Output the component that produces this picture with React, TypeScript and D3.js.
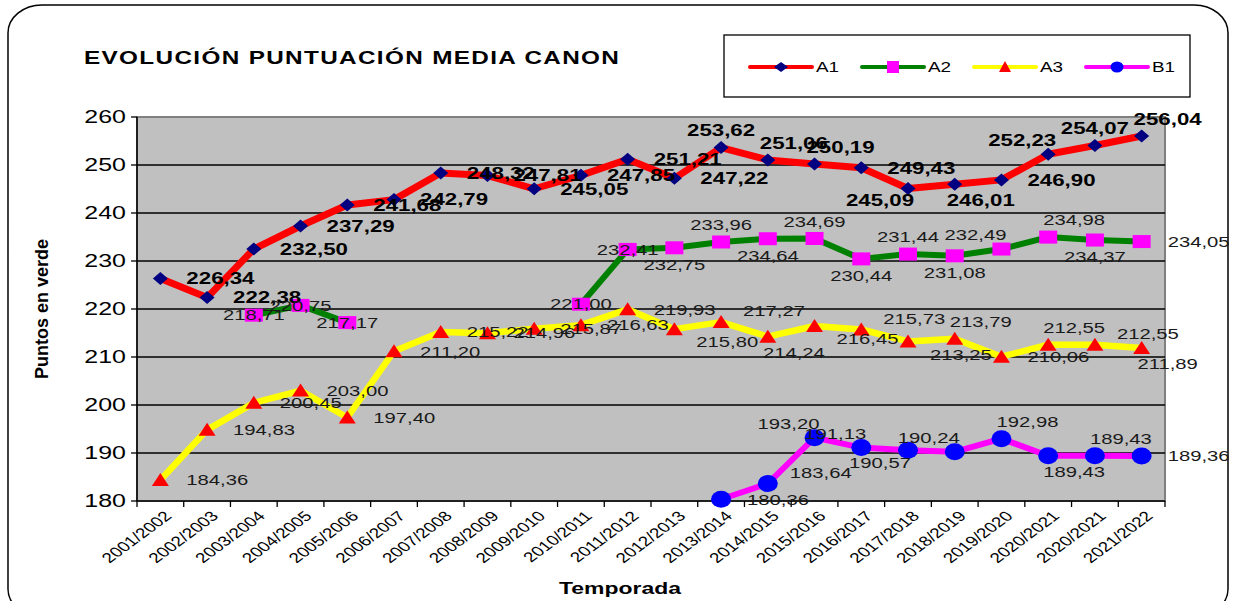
import React from "react";
import * as d3 from "d3";

const categories = [
  "2001/2002", "2002/2003", "2003/2004", "2004/2005", "2005/2006", "2006/2007",
  "2007/2008", "2008/2009", "2009/2010", "2010/2011", "2011/2012", "2012/2013",
  "2013/2014", "2014/2015", "2015/2016", "2016/2017", "2017/2018", "2018/2019",
  "2019/2020", "2020/2021", "2020/2021", "2021/2022",
];

const a1 = [226.34, 222.38, 232.5, 237.29, 241.68, 242.79, 248.32, 247.81, 245.05, 247.85, 251.21,
  247.22, 253.62, 251.06, 250.19, 249.43, 245.09, 246.01, 246.9, 252.23, 254.07, 256.04];
const a2 = [null, null, 218.71, 220.75, 217.17, null, null, null, null, 221.0, 232.41,
  232.75, 233.96, 234.64, 234.69, 230.44, 231.44, 231.08, 232.49, 234.98, 234.37, 234.05];
const a3 = [184.36, 194.83, 200.45, 203.0, 197.4, 211.2, 215.22, 214.96, 215.87, 216.63, 219.93,
  215.8, 217.27, 214.24, 216.45, 215.73, 213.25, 213.79, 210.06, 212.55, 212.55, 211.89];
const b1 = [null, null, null, null, null, null, null, null, null, null, null, null,
  180.36, 183.64, 193.2, 191.13, 190.57, 190.24, 192.98, 189.43, 189.43, 189.36];

const yTicks = [180, 190, 200, 210, 220, 230, 240, 250, 260];

// where each value label sits relative to its point
const placeA1 = ["r", "r", "r", "r", "r", "r", "r", "r", "r", "r", "r", "r",
  "a", "ar", "ar", "r", "bl", "br", "r", "al", "a", "ar"];
const placeA2 = ["", "", "c", "c", "c", "", "", "", "", "c", "c",
  "b", "a", "b", "a", "b", "a", "b", "al", "ar", "b", "r"];
const placeA3 = ["r", "r", "r", "r", "r", "r", "r", "r", "r", "r", "r",
  "rb", "ra", "br", "rb", "ra", "rb", "ar", "r", "ar", "ra", "br"];
const placeB1 = ["", "", "", "", "", "", "", "", "", "", "", "",
  "r", "ra", "al", "al", "bl", "al", "ar", "br", "ar", "r"];

const W = 1239;
const H = 601;
const SX = 1.35; // the original text is drawn wide
const FONT = "'Liberation Sans', Arial, sans-serif";
const margin = { top: 117, right: 74, bottom: 100, left: 137 };

const offsets: Record<string, [string, number, number]> = {
  r: ["start", 26, 0],
  ra: ["start", 22, -11],
  rb: ["start", 22, 13],
  l: ["end", -26, 0],
  c: ["middle", 0, 0],
  a: ["middle", 0, -17],
  b: ["middle", 0, 17],
  ar: ["middle", 26, -17],
  al: ["middle", -26, -14],
  br: ["middle", 26, 16],
  bl: ["middle", -28, 12],
};

const fmt = (v: number) => v.toFixed(2).replace(".", ",");

function marker(kind: string, x: number, y: number, key?: string) {
  if (kind === "diamond") {
    return <path key={key} d={`M${x - 7.5},${y}L${x},${y - 6.5}L${x + 7.5},${y}L${x},${y + 6.5}Z`} fill="#000080" />;
  }
  if (kind === "square") {
    return <rect key={key} x={x - 9} y={y - 6.5} width={18} height={13} fill="#ff00ff" />;
  }
  if (kind === "triangle") {
    return <path key={key} d={`M${x - 8.5},${y + 6}L${x},${y - 7}L${x + 8.5},${y + 6}Z`} fill="#ff0000" />;
  }
  return <ellipse key={key} cx={x} cy={y} rx={10} ry={8.5} fill="#0000ff" />;
}

function WideText(props: {
  x: number; y: number; children: React.ReactNode; size: number; bold?: boolean;
  anchor?: string; rotate?: number; fill?: string; spacing?: number; dy?: string;
}) {
  const { x, y, size, bold, anchor = "start", rotate = 0, fill = "#000", spacing = 0, dy = "0.35em" } = props;
  return (
    <text
      transform={`translate(${x},${y}) scale(${SX},1) rotate(${rotate})`}
      fontFamily={FONT}
      fontSize={size}
      fontWeight={bold ? "bold" : "normal"}
      textAnchor={anchor}
      fill={fill}
      letterSpacing={spacing}
      dy={dy}
    >
      {props.children}
    </text>
  );
}

export default function App() {
  const n = categories.length;
  const idx = d3.range(n);
  const x = d3.scalePoint<number>().domain(idx).range([margin.left, W - margin.right]).padding(0.5);
  const band = d3.scaleBand<number>().domain(idx).range([margin.left, W - margin.right]);
  const y = d3.scaleLinear().domain([180, 260]).range([H - margin.bottom, margin.top]);

  const x0 = margin.left;
  const x1 = W - margin.right;
  const yb = H - margin.bottom;

  const line = d3
    .line<number | null>()
    .defined((d) => d != null)
    .x((_, i) => x(i) as number)
    .y((d) => y(d as number));

  const series = [
    { name: "A1", values: a1, color: "#ff0000", width: 7, marker: "diamond", place: placeA1, bold: true },
    { name: "A2", values: a2, color: "#008000", width: 6, marker: "square", place: placeA2, bold: false },
    { name: "A3", values: a3, color: "#ffff00", width: 6.5, marker: "triangle", place: placeA3, bold: false },
    { name: "B1", values: b1, color: "#ff00ff", width: 6, marker: "circle", place: placeB1, bold: false },
  ];

  const bounds = idx.map((i) => band(i) as number).concat([x1]);

  return (
    <svg width={W} height={H} style={{ position: "absolute", left: 0, top: 0, display: "block" }}>
      <rect width={W} height={H} fill="#fff" />
      <rect x={8} y={5} width={1220} height={612} rx={34} ry={28} fill="none" stroke="#000" strokeWidth={1.5} />

      <WideText x={84} y={58} size={18} bold spacing={1}>EVOLUCIÓN PUNTUACIÓN MEDIA CANON</WideText>

      {/* plot area */}
      <rect x={x0} y={margin.top} width={x1 - x0} height={yb - margin.top} fill="#c0c0c0" stroke="#808080" strokeWidth={2} />
      {yTicks.slice(1, -1).map((t) => (
        <line key={t} x1={x0} x2={x1} y1={y(t)} y2={y(t)} stroke="#000" strokeWidth={1.3} />
      ))}
      <line x1={x0} x2={x0} y1={margin.top} y2={yb} stroke="#000" strokeWidth={1.5} />
      <line x1={x0} x2={x1} y1={yb} y2={yb} stroke="#000" strokeWidth={1.5} />
      {yTicks.map((t) => (
        <g key={t}>
          <line x1={x0 - 6} x2={x0} y1={y(t)} y2={y(t)} stroke="#000" strokeWidth={1.3} />
          <WideText x={x0 - 11} y={y(t)} size={18.5} anchor="end">{t}</WideText>
        </g>
      ))}
      {bounds.map((b, i) => (
        <line key={i} x1={b} x2={b} y1={yb} y2={yb + 6} stroke="#000" strokeWidth={1.3} />
      ))}
      {idx.map((i) => (
        <WideText key={i} x={(x(i) as number) + 3} y={yb + 9} size={14} anchor="end" rotate={-45} dy="0.7em">
          {categories[i]}
        </WideText>
      ))}
      <WideText x={620} y={588} size={17} bold anchor="middle">Temporada</WideText>
      <text
        transform={`translate(42,${(margin.top + yb) / 2}) rotate(-90)`}
        fontFamily={FONT}
        fontSize={18}
        fontWeight="bold"
        textAnchor="middle"
        dy="0.35em"
      >
        Puntos en verde
      </text>

      {/* series */}
      {series.map((s) => (
        <g key={s.name}>
          <path d={line(s.values) || ""} fill="none" stroke={s.color} strokeWidth={s.width} strokeLinejoin="round" />
          {s.values.map((v, i) => (v == null ? null : marker(s.marker, x(i) as number, y(v), `${s.name}-${i}`)))}
        </g>
      ))}
      {series.map((s) => (
        <g key={`lab-${s.name}`}>
          {s.values.map((v, i) => {
            if (v == null) return null;
            const [anchor, dx, dy] = offsets[s.place[i]] || offsets.r;
            return (
              <WideText
                key={i}
                x={(x(i) as number) + dx}
                y={y(v) + dy}
                size={s.bold ? 16.5 : 15}
                bold={s.bold}
                anchor={anchor}
                fill={s.bold ? "#000" : "#1a1a1a"}
              >
                {fmt(v)}
              </WideText>
            );
          })}
        </g>
      ))}

      {/* legend */}
      <rect x={724} y={35} width={466} height={62} fill="#fff" stroke="#000" strokeWidth={1.3} />
      {series.map((s, i) => {
        const lx = 750 + i * 112;
        const ly = 67;
        return (
          <g key={`leg-${s.name}`}>
            <line x1={lx} x2={lx + 62} y1={ly} y2={ly} stroke={s.color} strokeWidth={4} strokeLinecap="round" />
            {s.marker === "diamond" ? (
              <path d={`M${lx + 24},${ly}L${lx + 31},${ly - 5}L${lx + 38},${ly}L${lx + 31},${ly + 5}Z`} fill="#000080" />
            ) : s.marker === "square" ? (
              <rect x={lx + 25} y={ly - 6} width={12} height={12} fill="#ff00ff" />
            ) : s.marker === "triangle" ? (
              <path d={`M${lx + 25},${ly + 5}L${lx + 31},${ly - 6}L${lx + 37},${ly + 5}Z`} fill="#ff0000" />
            ) : (
              <ellipse cx={lx + 31} cy={ly} rx={6.5} ry={5.5} fill="#0000ff" />
            )}
            <WideText x={lx + 66} y={ly} size={14}>{s.name}</WideText>
          </g>
        );
      })}
    </svg>
  );
}
